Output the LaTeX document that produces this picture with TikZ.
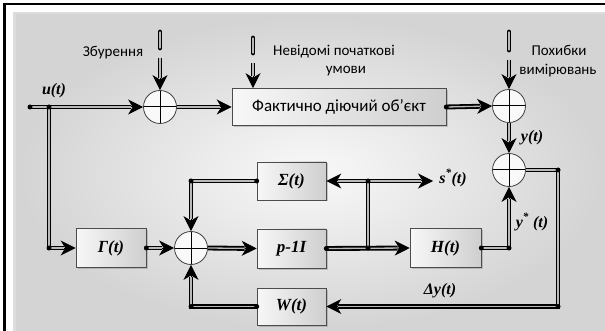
\documentclass[tikz,border=0pt]{standalone}
\usepackage{fontspec}
\setmainfont{Carlito}
\newfontfamily\lblfont{Liberation Serif}
\usetikzlibrary{arrows.meta,shadows,calc}

\tikzset{
  wire/.style={draw=black, line width=1.8pt, double=gray!55, double distance=1.3pt},
  tipline/.style={draw=black, line width=1pt, -{Stealth[length=15pt,width=15pt,inset=4.5pt]}},
  blk/.style={draw=gray!60!black, line width=0.6pt, left color=gray!6, right color=gray!38,
    inner sep=0pt, font=\lblfont\bfseries\itshape\fontsize{17}{17}\selectfont,
    drop shadow={shadow xshift=1.5pt, shadow yshift=-1.5pt, opacity=0.4}},
  sumnode/.style={circle, draw=gray!50!black, line width=0.8pt, fill=gray!5,
    minimum size=33pt, inner sep=0pt,
    path picture={\draw[black, line width=1pt]
      (path picture bounding box.north) -- (path picture bounding box.south)
      (path picture bounding box.west) -- (path picture bounding box.east);}},
  jdot/.style={circle, fill=black, inner sep=0pt, minimum size=5pt},
  txt/.style={font=\fontsize{15}{17}\selectfont, align=center, inner sep=0pt},
  mlbl/.style={font=\lblfont\bfseries\itshape\fontsize{16}{16}\selectfont, inner sep=0pt},
}

\begin{document}
\begin{tikzpicture}[x=1pt, y=-1pt]
\useasboundingbox (0,0) rectangle (605,331);

% page frame and shaded panel
\fill[white] (0,0) rectangle (605,331);
\fill[gray!45, opacity=0.6] (13,12) rectangle (605,331);
\shade[inner color=gray!5, outer color=gray!34] (16,15) rectangle (605,331);
\draw[black, line width=2.5pt] (3,4) -- (605,4) (4.5,3) -- (4.5,331);

% blocks
\node[blk, minimum width=214pt, minimum height=37pt, font=\fontsize{17}{19}\selectfont]
  (obj) at (339,107) {Фактично діючий об'єкт};
\node[blk, minimum width=69pt, minimum height=38pt] (sig) at (291.5,181) {Σ(t)};
\node[blk, minimum width=69pt, minimum height=39pt] (pI) at (291.5,248.5) {p-1I};
\node[blk, minimum width=69pt, minimum height=37pt] (W) at (291.5,306.5) {W(t)};
\node[blk, minimum width=71pt, minimum height=39pt] (H) at (445.5,248) {H(t)};
\node[blk, minimum width=70pt, minimum height=39pt] (gam) at (111,248) {Γ(t)};

% summing junctions
\node[sumnode] (s1) at (160,107) {};
\node[sumnode] (s2) at (509,106) {};
\node[sumnode] (s3) at (509,170) {};
\node[sumnode] (s4) at (191,248) {};

% free ends and bends
\coordinate (ustart) at (30,107);
\coordinate (ujn) at (49,107);
\coordinate (ucorner) at (49,248);
\coordinate (da1) at (160,32);  \coordinate (da2) at (160,48);  \coordinate (da3) at (160,58);
\coordinate (db1) at (253,38);  \coordinate (db2) at (253,53);  \coordinate (db3) at (253,63);
\coordinate (dc1) at (509,32);  \coordinate (dc2) at (509,50);  \coordinate (dc3) at (509,60);
\coordinate (rtop) at (558,170);
\coordinate (rbot) at (558,306.5);
\coordinate (hcorner) at (509,248);
\coordinate (pjn) at (368,248);
\coordinate (sjn) at (368,181);
\coordinate (send) at (433,181);
\coordinate (sigcorner) at (191,181);
\coordinate (wcorner) at (191,306.5);

% arrow tips (drawn first, wires cover their shafts)
\draw[tipline] (ustart) -- (s1.west);
\draw[tipline] (ucorner) -- (gam.west);
\draw[tipline] (da3) -- (s1.north);
\draw[tipline] (s1.east) -- (obj.west);
\draw[tipline] (db3) -- (db3 |- obj.north);
\draw[tipline] (obj.east) -- (s2.west);
\draw[tipline] (dc3) -- (s2.north);
\draw[tipline] (s2.south) -- (s3.north);
\draw[tipline] (rbot) -- (W.east);
\draw[tipline] (hcorner) -- (s3.south);
\draw[tipline] (pI.east) -- (H.west);
\draw[tipline] (sjn) -- (sig.east);
\draw[tipline] (sjn) -- (send);
\draw[tipline] (sigcorner) -- (s4.north);
\draw[tipline] (wcorner) -- (s4.south);
\draw[tipline] (gam.east) -- (s4.west);
\draw[tipline] (s4.east) -- (pI.west);

% double-line connectors
\begin{scope}[line join=miter]
\draw[wire, shorten >=12pt] (ustart) -- (s1.west);
\draw[wire, shorten >=12pt] (ujn) |- (gam.west);
\draw[wire, line cap=round] (da1) -- (da2);
\draw[wire, shorten >=12pt] (da3) -- (s1.north);
\draw[wire, shorten >=12pt] (s1.east) -- (obj.west);
\draw[wire, line cap=round] (db1) -- (db2);
\draw[wire, shorten >=12pt] (db3) -- (db3 |- obj.north);
\draw[wire, shorten >=12pt] (obj.east) -- (s2.west);
\draw[wire, line cap=round] (dc1) -- (dc2);
\draw[wire, shorten >=12pt] (dc3) -- (s2.north);
\draw[wire, shorten >=12pt] (s2.south) -- (s3.north);
\draw[wire, shorten >=12pt] (s3.east) -- (rtop) -- (rbot) -- (W.east);
\draw[wire, shorten >=12pt] (H.east) -- (hcorner) -- (s3.south);
\draw[wire, shorten >=12pt] (pI.east) -- (H.west);
\draw[wire] (pjn) -- (sjn);
\draw[wire, shorten >=12pt] (sjn) -- (sig.east);
\draw[wire, shorten >=12pt] (sjn) -- (send);
\draw[wire, shorten >=12pt] (sig.west) -- (sigcorner) -- (s4.north);
\draw[wire, shorten >=12pt] (W.west) -- (wcorner) -- (s4.south);
\draw[wire, shorten >=12pt] (gam.east) -- (s4.west);
\draw[wire, shorten >=12pt] (s4.east) -- (pI.west);
\end{scope}

% junction dots
\foreach \p in {ustart, ujn, ucorner, obj.east, rtop, rbot, H.east, hcorner, pI.east,
  pjn, sjn, sig.west, sigcorner, W.west, wcorner, gam.east}
  \node[jdot] at (\p) {};

% labels
\node[txt] (lz) at (113,53) {Збурення};
\node[txt] (ln) at (334,52) {Невідомі початкові};
\node[txt] (lu) at (346,71) {умови};
\node[txt] (lp) at (559,50) {Похибки};
\node[txt] (lv) at (558,71) {вимірювань};
\node[mlbl] (lut) at (54,91) {u(t)};
\node[mlbl] (lyt) at (532,138) {y(t)};
\node[mlbl] (lst) at (453,178) {s\textsuperscript{*}(t)};
\node[mlbl] (lys) at (532,222) {y\textsuperscript{*} (t)};
\node[mlbl] (ldy) at (440,291) {Δy(t)};
\end{tikzpicture}
\end{document}
